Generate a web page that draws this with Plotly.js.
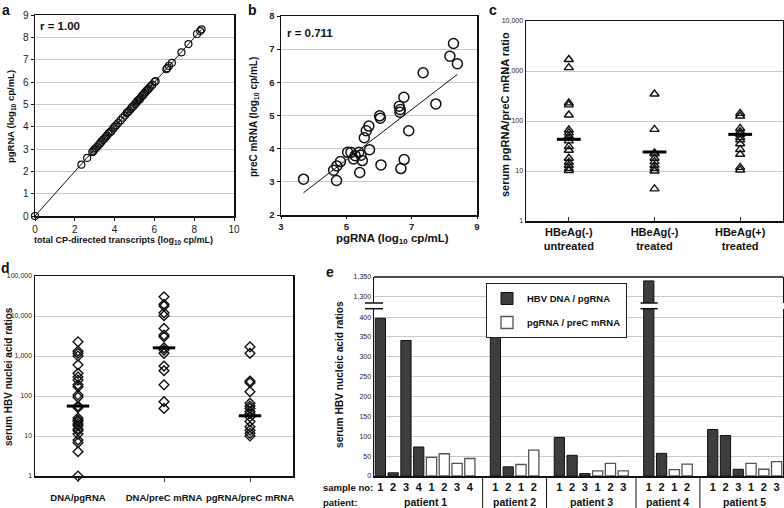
<!DOCTYPE html>
<html><head><meta charset="utf-8">
<script src="https://cdn.plot.ly/plotly-3.0.1.min.js"></script>
<style>html,body{margin:0;padding:0;background:#fff}#chart{width:784px;height:508px}</style>
</head><body><div id="chart"></div>
<script>
// ---------- Panel a: total CP-directed transcripts vs pgRNA ----------
const aTotal = [0.00, 2.33, 2.62, 2.88, 2.93, 2.98, 3.05, 3.12, 3.20, 3.27, 3.34, 3.41, 3.48, 3.55, 3.62, 3.69, 3.76, 3.84, 3.93, 4.01, 4.09, 4.18, 4.30, 4.41, 4.52, 4.61, 4.66, 4.72, 4.80, 4.87, 4.95, 5.03, 5.09, 5.14, 5.20, 5.26, 5.31, 5.38, 5.43, 5.49, 5.55, 5.61, 5.67, 5.72, 5.80, 5.90, 6.01, 6.06, 6.60, 6.64, 6.73, 6.88, 7.36, 7.71, 8.14, 8.30, 8.37];
const aPgRNA = [0.00, 2.30, 2.60, 2.86, 2.90, 2.97, 3.03, 3.10, 3.18, 3.25, 3.33, 3.40, 3.46, 3.53, 3.60, 3.69, 3.74, 3.80, 3.92, 4.00, 4.07, 4.16, 4.28, 4.40, 4.50, 4.61, 4.64, 4.70, 4.78, 4.86, 4.93, 5.02, 5.07, 5.14, 5.19, 5.22, 5.30, 5.38, 5.41, 5.49, 5.54, 5.61, 5.65, 5.71, 5.79, 5.88, 6.00, 6.04, 6.57, 6.62, 6.72, 6.86, 7.33, 7.70, 8.15, 8.28, 8.36];
const aTrendX = [0, 8.37];
const aTrendY = [0, 8.35];
const aLabel = 'r = 1.00';

// ---------- Panel b: pgRNA vs preC mRNA ----------
const bPgRNA = [3.69, 4.70, 4.61, 4.71, 4.82, 5.04, 5.14, 5.22, 5.27, 5.38, 5.45, 5.49, 5.41, 5.55, 5.61, 5.69, 5.71, 6.02, 6.04, 6.06, 6.62, 6.64, 6.65, 6.76, 6.67, 6.77, 6.91, 7.35, 7.74, 8.17, 8.28, 8.40];
const bPreC  = [3.08, 3.04, 3.35, 3.48, 3.61, 3.89, 3.89, 3.69, 3.79, 3.89, 3.80, 3.64, 3.28, 4.33, 4.54, 4.68, 3.97, 4.99, 4.92, 3.51, 5.28, 5.10, 5.18, 5.55, 3.40, 3.67, 4.54, 6.29, 5.35, 6.79, 7.17, 6.56];
const bTrendX = [3.69, 8.40];
const bTrendY = [2.67, 6.24];
const bLabel = 'r = 0.711';

// ---------- Panel c: serum pgRNA/preC mRNA ratio ----------
const cCats = ['HBeAg(-)<br>untreated', 'HBeAg(-)<br>treated', 'HBeAg(+)<br>treated'];
const cUntreatedNeg = [1700, 1170, 230, 210, 132, 66, 58, 50, 45, 40, 31, 26, 18, 15, 13, 11.3, 10.2];
const cTreatedNeg = [347, 68, 23, 22, 18, 15.4, 13, 11.3, 10, 4.4];
const cTreatedPos = [142, 126, 71, 61, 54, 47, 42, 35, 27, 21.6, 11.8, 10.5];
const cMedians = [43, 24, 54];

// ---------- Panel d: serum HBV nucleic acid ratios ----------
const dCats = ['DNA/pgRNA', 'DNA/preC mRNA', 'pgRNA/preC mRNA'];
const dDnaPg = [2270, 1330, 1170, 1000, 600, 370, 300, 250, 190, 170, 106, 93, 56, 51, 28, 25, 23, 20, 18, 15, 13.6, 11.2, 7.9, 6.8, 4.05, 1];
const dDnaPreC = [30200, 19600, 17800, 12000, 10200, 4900, 3350, 3020, 1600, 1410, 1170, 560, 430, 190, 72, 49];
const dPgPreC = [1700, 1170, 237, 215, 128, 66, 56, 49, 41, 36, 30, 23, 17, 14, 11.7, 10];
const dMedians = [56, 1600, 32];

// ---------- Panel e: per-patient ratios ----------
const ePatients = ['patient 1', 'patient 2', 'patient 3', 'patient 4', 'patient 5'];
const eSamples = [[1, 2, 3, 4], [1, 2], [1, 2, 3], [1, 2], [1, 2, 3]];
const eDnaPg   = [[397, 8, 341, 73], [349, 23], [97, 52, 6], [1340, 57], [117, 102, 17]];
const ePgPreC  = [[47, 56, 32, 44], [29, 65], [13, 32, 13], [16, 30], [32, 17, 36]];
const eNames = ['HBV DNA / pgRNA', 'pgRNA / preC mRNA'];

// ---------- helpers ----------
const W = 784, H = 508;
const px = v => v / W, py = v => 1 - v / H;
const FONT = 'Liberation Sans, Arial, sans-serif';
const GRID = '#c9c9c9';
const f = (size, bold, color) => ({family: FONT, size: size, color: color || '#111', weight: bold ? 'bold' : 'normal'});

// build panel e categories
const eCatArray = [], eTickVals = [], eTickText = [];
const eDarkX = [], eDarkY = [], eWhiteX = [], eWhiteY = [];
const eGroupCenters = [], eSeparators = [];
ePatients.forEach((p, i) => {
  const start = eCatArray.length;
  eSamples[i].forEach((s, j) => {
    const c = p + ' DNA/pgRNA ' + s;
    eCatArray.push(c); eTickVals.push(c); eTickText.push(String(s));
    eDarkX.push(c); eDarkY.push(eDnaPg[i][j]);
  });
  eSamples[i].forEach((s, j) => {
    const c = p + ' pgRNA/preC ' + s;
    eCatArray.push(c); eTickVals.push(c); eTickText.push(String(s));
    eWhiteX.push(c); eWhiteY.push(ePgPreC[i][j]);
  });
  eGroupCenters.push((start + eCatArray.length - 1) / 2);
  if (i < ePatients.length - 1) { eSeparators.push(eCatArray.length); eCatArray.push('gap ' + (i + 1)); }
});

function strip(cats, groups) {
  const x = [], y = [];
  groups.forEach((g, i) => g.forEach(v => { x.push(cats[i]); y.push(v); }));
  return {x, y};
}
const cStrip = strip(cCats, [cUntreatedNeg, cTreatedNeg, cTreatedPos]);
const dStrip = strip(dCats, [dDnaPg, dDnaPreC, dPgPreC]);

const traces = [
  {type: 'scatter', mode: 'lines', x: aTrendX, y: aTrendY, xaxis: 'x', yaxis: 'y', line: {color: '#111', width: 1}, showlegend: false, hoverinfo: 'skip'},
  {type: 'scatter', mode: 'markers', x: aTotal, y: aPgRNA, xaxis: 'x', yaxis: 'y', cliponaxis: false,
   marker: {symbol: 'circle-open', size: 7, color: '#111', line: {width: 1.2, color: '#111'}}, showlegend: false},
  {type: 'scatter', mode: 'lines', x: bTrendX, y: bTrendY, xaxis: 'x2', yaxis: 'y2', line: {color: '#111', width: 1}, showlegend: false, hoverinfo: 'skip'},
  {type: 'scatter', mode: 'markers', x: bPgRNA, y: bPreC, xaxis: 'x2', yaxis: 'y2', cliponaxis: false,
   marker: {symbol: 'circle-open', size: 10, color: '#111', line: {width: 1.5, color: '#111'}}, showlegend: false},
  {type: 'scatter', mode: 'markers', x: cStrip.x, y: cStrip.y, xaxis: 'x3', yaxis: 'y3', cliponaxis: false,
   marker: {symbol: 'triangle-up-open', size: 8, color: '#111', line: {width: 1.4, color: '#111'}}, showlegend: false},
  {type: 'scatter', mode: 'markers', x: cCats, y: cMedians, xaxis: 'x3', yaxis: 'y3', cliponaxis: false,
   marker: {symbol: 'line-ew', size: 17, color: '#000', line: {width: 3, color: '#000'}}, showlegend: false},
  {type: 'scatter', mode: 'markers', x: dStrip.x, y: dStrip.y, xaxis: 'x4', yaxis: 'y4', cliponaxis: false,
   marker: {symbol: 'diamond-open', size: 7.5, color: '#111', line: {width: 1.4, color: '#111'}}, showlegend: false},
  {type: 'scatter', mode: 'markers', x: dCats, y: dMedians, xaxis: 'x4', yaxis: 'y4', cliponaxis: false,
   marker: {symbol: 'line-ew', size: 16, color: '#000', line: {width: 3, color: '#000'}}, showlegend: false},
  // panel e: lower segment
  {type: 'bar', x: eDarkX, y: eDarkY, xaxis: 'x5', yaxis: 'y5', name: eNames[0], legendgroup: 'g1',
   marker: {color: '#3d3d3d', line: {color: '#111', width: 1}}},
  {type: 'bar', x: eWhiteX, y: eWhiteY, xaxis: 'x5', yaxis: 'y5', name: eNames[1], legendgroup: 'g2',
   marker: {color: '#ffffff', line: {color: '#555', width: 1.3}}},
  // panel e: upper segment (broken axis)
  {type: 'bar', x: eDarkX, y: eDarkY, xaxis: 'x5', yaxis: 'y6', name: eNames[0], showlegend: false,
   marker: {color: '#3d3d3d', line: {color: '#111', width: 1}}},
  {type: 'bar', x: eWhiteX, y: eWhiteY, xaxis: 'x5', yaxis: 'y6', name: eNames[1], showlegend: false,
   marker: {color: '#ffffff', line: {color: '#555', width: 1.3}}}
];

const boxAxis = {showline: true, linecolor: '#111', linewidth: 1.5, mirror: true, zeroline: false, fixedrange: true};

const layout = {
  width: W, height: H, autosize: false,
  margin: {l: 0, r: 0, t: 0, b: 0, pad: 0},
  paper_bgcolor: '#fff', plot_bgcolor: '#fff',
  font: f(10, false),
  barmode: 'overlay', bargap: 0.2,
  showlegend: true,
  legend: {x: px(486), y: py(283), xanchor: 'left', yanchor: 'top', bgcolor: '#fff', bordercolor: '#222', borderwidth: 1,
           font: f(9.5, true), tracegroupgap: 5, itemwidth: 30},
  // a
  xaxis: Object.assign({}, boxAxis, {domain: [px(35), px(234)], anchor: 'y', range: [0, 10], dtick: 2, tick0: 0,
    ticks: 'outside', ticklen: 3, tickcolor: '#111', showgrid: false, tickfont: f(10, false, '#222')}),
  yaxis: Object.assign({}, boxAxis, {domain: [py(216), py(15)], anchor: 'x', range: [0, 9], dtick: 1, tick0: 0,
    ticks: 'outside', ticklen: 3, tickcolor: '#111', showgrid: true, gridcolor: GRID, tickfont: f(10, false, '#222')}),
  // b
  xaxis2: Object.assign({}, boxAxis, {domain: [px(281), px(477)], anchor: 'y2', range: [3, 9], dtick: 2, tick0: 3,
    ticks: 'outside', ticklen: 2, tickcolor: '#111', showgrid: false, tickfont: f(9.5, true, '#222')}),
  yaxis2: Object.assign({}, boxAxis, {domain: [py(215), py(16)], anchor: 'x2', range: [2, 8], dtick: 1, tick0: 2,
    ticks: 'outside', ticklen: 3, tickcolor: '#111', showgrid: true, gridcolor: GRID, tickfont: f(9.5, true, '#222')}),
  // c
  xaxis3: Object.assign({}, boxAxis, {domain: [px(526), px(783)], anchor: 'y3', type: 'category', range: [-0.5, 2.5],
    categoryorder: 'array', categoryarray: cCats, ticks: 'inside', ticklen: 4, tickcolor: '#333', showgrid: false,
    tickangle: 0, tickfont: f(11, true, '#111')}),
  yaxis3: Object.assign({}, boxAxis, {domain: [py(221), py(21)], anchor: 'x3', type: 'log', range: [0, 4], dtick: 1,
    tickformat: ',d', ticks: '', showgrid: true, gridcolor: GRID, tickfont: f(7, false, '#222')}),
  // d
  xaxis4: Object.assign({}, boxAxis, {domain: [px(35), px(293)], anchor: 'y4', type: 'category', range: [-0.5, 2.5],
    categoryorder: 'array', categoryarray: dCats, ticks: 'outside', ticklen: 4, tickcolor: '#333', showgrid: false,
    tickangle: 0, ticklabelstandoff: 8, tickfont: f(9.5, true, '#111')}),
  yaxis4: Object.assign({}, boxAxis, {domain: [py(476), py(276)], anchor: 'x4', type: 'log', range: [0, 5], dtick: 1,
    tickformat: ',d', ticks: '', showgrid: true, gridcolor: GRID, tickfont: f(7, false, '#222')}),
  // e
  xaxis5: {domain: [px(374), px(783)], anchor: 'y5', type: 'category', range: [-0.5, eCatArray.length - 0.5],
    categoryorder: 'array', categoryarray: eCatArray, tickmode: 'array', tickvals: eTickVals, ticktext: eTickText,
    showline: true, linecolor: '#111', linewidth: 1.5, ticks: '', showgrid: false, zeroline: false, tickangle: 0,
    tickfont: f(11, true, '#111'), fixedrange: true},
  yaxis5: {domain: [py(476), py(308.7)], anchor: 'x5', range: [0, 421], dtick: 50, tick0: 0,
    showline: true, mirror: true, linecolor: '#111', linewidth: 1.5, ticks: '', showgrid: true, gridcolor: GRID,
    zeroline: false, tickfont: f(7, false, '#222'), fixedrange: true},
  yaxis6: {domain: [py(303), py(277)], anchor: 'x5', range: [1283, 1350], dtick: 50, tick0: 0, tickformat: ',d',
    showline: true, mirror: true, linecolor: '#111', linewidth: 1.5, ticks: '', showgrid: true, gridcolor: GRID,
    zeroline: false, tickfont: f(7, false, '#222'), fixedrange: true},
  shapes: [],
  annotations: []
};

// e frame top and break marks, group separators
layout.shapes.push({type: 'line', xref: 'x5 domain', yref: 'y6 domain', x0: 0, x1: 1, y0: 1, y1: 1, line: {color: '#111', width: 1.5}});
[303, 308.7].forEach(yv => {
  layout.shapes.push({type: 'line', xref: 'paper', yref: 'paper', x0: px(365), x1: px(383), y0: py(yv), y1: py(yv), line: {color: '#111', width: 1.5}});
  layout.shapes.push({type: 'line', xref: 'x5', yref: 'paper', x0: 20.35, x1: 21.7, y0: py(yv), y1: py(yv), line: {color: '#111', width: 1.5}});
});
eSeparators.forEach(s => {
  layout.shapes.push({type: 'line', xref: 'x5', yref: 'paper', x0: s, x1: s, y0: 0, y1: py(476), line: {color: '#111', width: 1}});
});

const ann = (text, x, y, size, opts) => Object.assign({text, x: px(x), y: py(y), xref: 'paper', yref: 'paper', showarrow: false,
  xanchor: 'center', yanchor: 'middle', font: f(size, true, '#111')}, opts || {});

layout.annotations.push(
  ann('a', 6, 0, 14, {yanchor: 'top'}), ann('b', 252, 0, 14, {yanchor: 'top'}), ann('c', 493, 0, 14, {yanchor: 'top'}),
  ann('d', 5, 268, 14), ann('e', 330, 272, 14),
  ann(aLabel, 60, 26, 11.5), ann(bLabel, 310, 33, 11.5),
  ann('pgRNA (log<sub>10</sub> cp/mL)', 11, 117, 9.5, {textangle: -90}),
  ann('total CP-directed transcripts (log<sub>10</sub> cp/mL)', 123, 240, 9),
  ann('preC mRNA (log<sub>10</sub> cp/mL)', 254, 117, 10, {textangle: -90}),
  ann('pgRNA (log<sub>10</sub> cp/mL)', 392, 239, 11.5),
  ann('serum pgRNA/preC mRNA ratio', 505, 115, 11, {textangle: -90}),
  ann('serum HBV nuclei acid ratios', 8, 377, 10, {textangle: -90}),
  ann('serum HBV nucleic acid ratios', 339, 375, 10.2, {textangle: -90}),
  ann('sample no:', 321, 487, 9.5, {xanchor: 'left'}),
  ann('patient:', 321, 502, 9.5, {xanchor: 'left'})
);
ePatients.forEach((p, i) => {
  layout.annotations.push({text: p, x: eGroupCenters[i], y: py(502), xref: 'x5', yref: 'paper', showarrow: false,
    xanchor: 'center', yanchor: 'middle', font: f(10.5, true, '#111')});
});

Plotly.newPlot('chart', traces, layout, {displayModeBar: false, staticPlot: true});
</script></body></html>
